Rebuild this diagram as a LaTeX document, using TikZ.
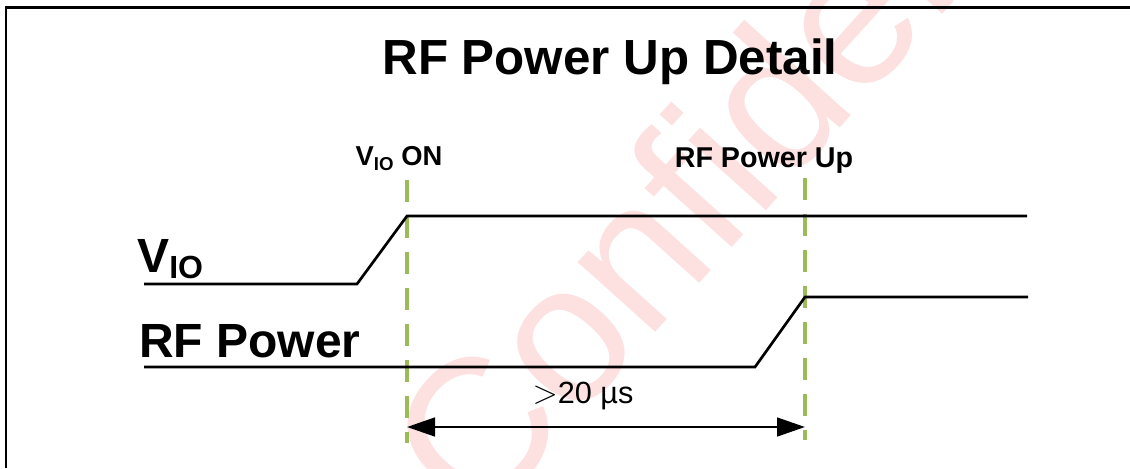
\documentclass[tikz,border=0pt]{standalone}
\usepackage{fontspec}
\setmainfont{Liberation Sans}
\usetikzlibrary{arrows.meta,positioning}
\definecolor{markgreen}{RGB}{155,187,89}
\definecolor{stamppink}{RGB}{253,224,224}

\begin{document}
\begin{tikzpicture}[x=0.75pt,y=-0.75pt,
    wave/.style={line width=2pt, black},
    marker/.style={line width=2.6pt, markgreen, dash pattern=on 16.5pt off 10.5pt},
    biglabel/.style={font=\fontsize{36}{40}\selectfont\bfseries, inner sep=0pt, anchor=base west},
    eventlabel/.style={font=\fontsize{21.5}{24}\selectfont\bfseries, inner sep=0pt, anchor=base},
    bigtip/.tip={Triangle[length=21pt,width=14pt]}]
    \useasboundingbox (0,0) rectangle (1130,468);

    % Watermark
    \node[rotate=48, anchor=base west, inner sep=0pt, text=stamppink,
          font=\fontsize{148}{160}\selectfont] (stamp) at (478,530) {Confidential};

    % Frame
    \draw[line width=2.2pt] (1130,7.5) -- (6,7.5) -- (6,468);

    % Title
    \node[font=\fontsize{37}{40}\selectfont\bfseries, inner sep=0pt, anchor=base] (title) at (610,74) {RF Power Up Detail};

    % Signal names
    \node[biglabel] (vioLabel) at (137,272) {V\raisebox{-4.5pt}{\fontsize{24}{24}\selectfont IO}};
    \node[biglabel] (rfLabel) at (139,357) {RF Power};

    % Event markers
    \foreach \x/\n/\t/\b in {407/von/180/443, 805/rfup/178/440} {
        \coordinate (\n Top) at (\x,\t);
        \coordinate (\n Bot) at (\x,\b);
        \draw[marker] (\n Top) -- (\n Bot);
    }
    \node[eventlabel, font=\fontsize{20.5}{24}\selectfont\bfseries] (vionText) at (399,165) {V\raisebox{-3.75pt}{\fontsize{14}{14}\selectfont IO} ON};
    \node[eventlabel] (rfupText) at (764,167) {RF Power Up};

    % V_IO waveform
    \coordinate (vioStart) at (144,284);
    \coordinate (vioRise) at (357,284);
    \coordinate (vioHigh) at (407,216);
    \coordinate (vioEnd) at (1027,216);
    \draw[wave] (vioStart) -- (vioRise) -- (vioHigh) -- (vioEnd);

    % RF power waveform
    \coordinate (rfStart) at (144,367);
    \coordinate (rfRise) at (755,367);
    \coordinate (rfHigh) at (805,297);
    \coordinate (rfEnd) at (1028,297);
    \draw[wave] (rfStart) -- (rfRise) -- (rfHigh) -- (rfEnd);

    % Delay
    \coordinate (delayL) at (407,427);
    \coordinate (delayR) at (805,427);
    \draw[wave, bigtip-bigtip] (delayL) -- (delayR);
    \node[font=\fontsize{23}{26}\selectfont, inner sep=0pt, anchor=base] (delayText) at (583,403) {$>$20 µs};
\end{tikzpicture}
\end{document}
